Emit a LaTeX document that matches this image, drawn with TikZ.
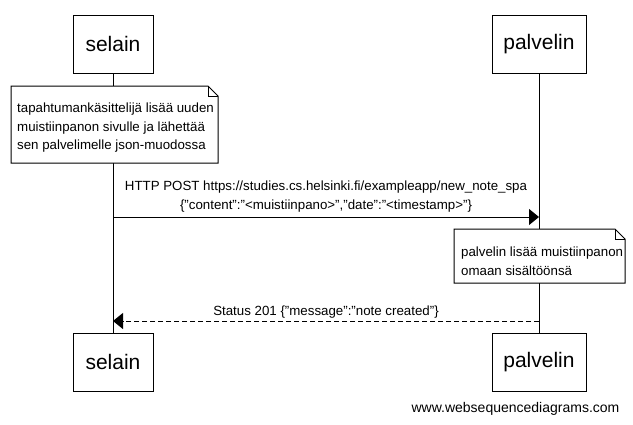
\documentclass[tikz,border=0pt]{standalone}
\usepackage{fontspec}
\setmainfont{Liberation Sans}
\usetikzlibrary{arrows.meta}
\begin{document}
\begin{tikzpicture}[x=1pt,y=-1pt,
  actor/.style={draw,line width=1pt,minimum height=58pt,inner sep=0pt,font=\fontsize{21}{24}\selectfont},
  life/.style={line width=1pt},
  msg/.style={line width=1pt,-{Triangle[length=10pt,width=16pt]}},
  reply/.style={msg,dash pattern=on 5pt off 3pt},
  mlabel/.style={font=\fontsize{13.3}{19}\selectfont,align=center,inner sep=0pt},
  notetext/.style={font=\fontsize{13.3}{18.5}\selectfont,align=left,inner sep=0pt,anchor=north west},
  notebox/.style={draw,line width=1pt,fill=white}
]
\useasboundingbox (0,0) rectangle (633,424);
% actors
\node[actor,minimum width=80pt] (sTop) at (113,44) {selain};
\node[actor,minimum width=94pt] (pTop) at (539,44) {palvelin};
\node[actor,minimum width=80pt] (sBot) at (113,362) {selain};
\node[actor,minimum width=94pt] (pBot) at (539,362) {palvelin};
% lifelines
\draw[life] (sTop.south) -- (sBot.north);
\draw[life] (pTop.south) -- (pBot.north);
% note 1
\draw[notebox] (11,86) -- (208,86) -- (218,96) -- (218,163) -- (11,163) -- cycle;
\draw[line width=0.6pt] (208,86) -- (208,96) -- (218,96);
\node[notetext] (n1) at (17,103) {tapahtumankäsittelijä lisää uuden\\muistiinpanon sivulle ja lähettää\\sen palvelimelle json-muodossa};
% message 1
\coordinate (m1a) at (sTop.south |- 0,217);
\coordinate (m1b) at (pTop.south |- 0,217);
\draw[msg] (m1a) -- (m1b);
\node[mlabel] (l1) at (326,196.5) {HTTP POST https://studies.cs.helsinki.fi/exampleapp/new\_note\_spa\\\{"content":"<muistiinpano>","date":"<timestamp>"\}};
% note 2
\draw[notebox] (454,229) -- (615,229) -- (625,239) -- (625,283) -- (454,283) -- cycle;
\draw[line width=0.6pt] (615,229) -- (615,239) -- (625,239);
\node[notetext] (n2) at (461,247) {palvelin lisää muistiinpanon\\omaan sisältöönsä};
% message 2
\coordinate (m2a) at (pTop.south |- 0,321);
\coordinate (m2b) at (sTop.south |- 0,321);
\draw[reply] (m2a) -- (m2b);
\node[mlabel] (l2) at (326,312) {Status 201 \{"message":"note created"\}};
% watermark
\node[font=\fontsize{14}{16}\selectfont,inner sep=0pt] (wm) at (515.5,409) {www.websequencediagrams.com};
\end{tikzpicture}
\end{document}
